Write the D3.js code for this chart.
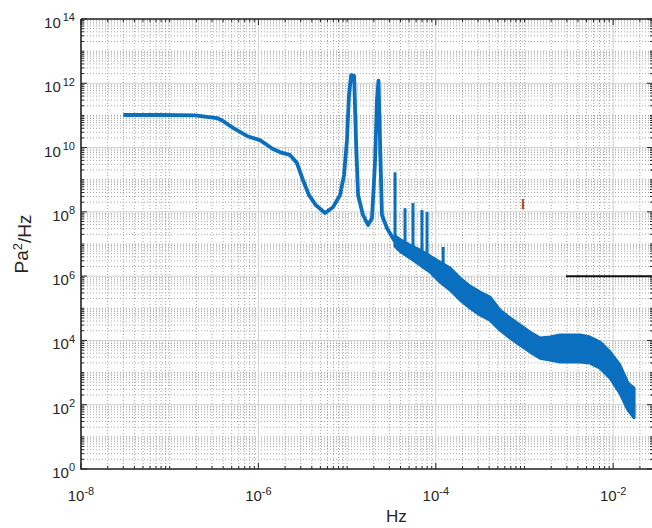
<!DOCTYPE html>
<html>
<head>
<meta charset="utf-8">
<script src="https://cdn.jsdelivr.net/npm/d3@7"></script>
<style>
  body { margin: 0; background: #fff; }
  svg { display: block; font-family: "Liberation Sans", Arial, sans-serif; }
</style>
</head>
<body>
<svg id="chart"></svg>
<script>
// spectrum below ~3e-5 Hz (Hz, Pa^2/Hz)
const lineFreq = [3.0e-8, 7.8e-8, 1.93e-7, 2.5e-7, 3.41e-7, 3.99e-7, 5.18e-7, 7.43e-7, 1.04e-6, 1.46e-6,
  1.85e-6, 2.27e-6, 2.72e-6, 3.18e-6, 3.72e-6, 4.46e-6, 5.64e-6, 6.93e-6, 8.32e-6, 9.23e-6,
  9.97e-6, 1.05e-5, 1.11e-5, 1.20e-5, 1.26e-5, 1.33e-5, 1.51e-5, 1.72e-5, 1.91e-5, 2.07e-5,
  2.17e-5, 2.26e-5, 2.35e-5, 2.47e-5, 2.82e-5, 3.29e-5, 3.47e-5];
const linePsd = [1.03e11, 1.03e11, 1.0e11, 9.2e10, 8.3e10, 6.7e10, 4.1e10, 2.3e10, 1.7e10, 9.0e9,
  6.8e9, 5.9e9, 3.3e9, 9.8e8, 3.3e8, 1.6e8, 9.2e7, 1.4e8, 3.3e8, 1.4e9,
  1.7e10, 4.3e11, 1.8e12, 1.7e12, 1.7e10, 3.3e8, 8.0e7, 3.9e7, 6.4e7, 4.1e9,
  3.0e11, 1.2e12, 1.7e10, 8.0e7, 3.1e7, 1.5e7, 1.2e7];

// noisy part: upper / lower envelope of the trace
const bandFreq = [3.47e-5, 4.05e-5, 5.12e-5, 6.64e-5, 8.61e-5, 1.11e-4, 1.45e-4, 1.88e-4, 2.43e-4, 3.15e-4,
  4.08e-4, 5.30e-4, 6.87e-4, 8.89e-4, 1.15e-3, 1.50e-3, 1.94e-3, 2.51e-3, 3.26e-3, 4.23e-3,
  5.47e-3, 7.10e-3, 9.20e-3, 1.19e-2, 1.47e-2, 1.72e-2];
const bandHigh = [1.77e7, 1.33e7, 9.3e6, 6.5e6, 4.2e6, 2.75e6, 1.79e6, 8.7e5, 4.9e5, 3.2e5,
  2.24e5, 8.8e4, 5.0e4, 3.0e4, 1.82e4, 1.19e4, 1.28e4, 1.47e4, 1.47e4, 1.47e4,
  1.28e4, 8.9e3, 4.4e3, 1.72e3, 4.7e2, 3.3e2];
const bandLow = [8.6e6, 5.6e6, 3.7e6, 2.2e6, 1.34e6, 6.6e5, 3.7e5, 1.81e5, 1.02e5, 6.2e4,
  4.3e4, 2.1e4, 1.19e4, 7.2e3, 4.4e3, 2.8e3, 2.45e3, 2.13e3, 2.13e3, 2.13e3,
  1.98e3, 1.38e3, 6.8e2, 2.3e2, 68, 39];

// narrow lines sticking out of the band
const spikeFreq = [3.47e-5, 4.50e-5, 5.53e-5, 6.98e-5, 7.96e-5, 1.21e-4];
const spikeTop = [1.7e9, 1.3e8, 1.9e8, 1.14e8, 9.9e7, 8.1e6];
const spikeBase = [1.5e7, 1.1e7, 8.0e6, 5.5e6, 4.5e6, 2.4e6];

// the two extra marks
const refFreq = [2.94e-3, 0.03];
const refPsd = [1e6, 1e6];
const markFreq = [9.6e-4, 9.6e-4];
const markPsd = [1.2e8, 2.5e8];

const xTickExp = [-8, -6, -4, -2];
const yTickExp = [0, 2, 4, 6, 8, 10, 12, 14];

class PsdChart {
  constructor(_config) {
    this.config = {
      parentElement: _config.parentElement,
      containerWidth: _config.containerWidth || 652,
      containerHeight: _config.containerHeight || 528,
      margin: _config.margin || {top: 19, right: -1, bottom: 59, left: 81}
    };
    this.initVis();
  }

  initVis() {
    let vis = this;
    const m = vis.config.margin;
    vis.width = vis.config.containerWidth - m.left - m.right;
    vis.height = vis.config.containerHeight - m.top - m.bottom;

    vis.svg = d3.select(vis.config.parentElement)
      .attr('width', vis.config.containerWidth)
      .attr('height', vis.config.containerHeight);

    vis.chart = vis.svg.append('g')
      .attr('transform', `translate(${m.left},${m.top})`);

    vis.xScale = d3.scaleLog().domain([1e-8, 0.0281]).range([0, vis.width]);
    vis.yScale = d3.scaleLog().domain([1, 1e14]).range([vis.height, 0]);

    vis.svg.append('defs').append('clipPath').attr('id', 'plot-clip')
      .append('rect').attr('width', vis.width).attr('height', vis.height);

    vis.renderVis();
  }

  renderVis() {
    let vis = this;
    const x = vis.xScale, y = vis.yScale;
    const W = vis.width, H = vis.height;

    // 1..9 x 10^n ticks from the log scales
    const xAll = x.ticks(50);
    const yAll = y.ticks(100);
    const xMajor = xTickExp.map(e => Math.pow(10, e));
    const yMajor = yTickExp.map(e => Math.pow(10, e));
    const isMajor = (list, v) => list.some(t => Math.abs(Math.log10(t) - Math.log10(v)) < 1e-6);
    const xMinor = xAll.filter(v => !isMajor(xMajor, v));
    const yMinor = yAll.filter(v => !isMajor(yMajor, v));

    // grid
    const grid = vis.chart.append('g');
    grid.selectAll('.vminor').data(xMinor).join('line')
      .attr('x1', d => x(d)).attr('x2', d => x(d)).attr('y1', 0).attr('y2', H)
      .attr('stroke', '#a8a8a8').attr('stroke-width', 1).attr('stroke-dasharray', '1,2');
    grid.selectAll('.hminor').data(yMinor).join('line')
      .attr('x1', 0).attr('x2', W).attr('y1', d => y(d)).attr('y2', d => y(d))
      .attr('stroke', '#a8a8a8').attr('stroke-width', 1).attr('stroke-dasharray', '1,2');
    grid.selectAll('.vmajor').data(xMajor).join('line')
      .attr('x1', d => x(d)).attr('x2', d => x(d)).attr('y1', 0).attr('y2', H)
      .attr('stroke', '#d0d0d0').attr('stroke-width', 1);
    grid.selectAll('.hmajor').data(yMajor).join('line')
      .attr('x1', 0).attr('x2', W).attr('y1', d => y(d)).attr('y2', d => y(d))
      .attr('stroke', '#d0d0d0').attr('stroke-width', 1);

    // data
    const plot = vis.chart.append('g').attr('clip-path', 'url(#plot-clip)');
    const blue = '#0b6fbf';

    const band = bandFreq.map((f, i) => ({f: f, hi: bandHigh[i], lo: bandLow[i]}));
    plot.append('path')
      .datum(band)
      .attr('d', d3.area().x(d => x(d.f)).y0(d => y(d.lo)).y1(d => y(d.hi)))
      .attr('fill', blue).attr('stroke', blue).attr('stroke-width', 3)
      .attr('stroke-linejoin', 'round');

    plot.selectAll('.spike').data(spikeFreq).join('line')
      .attr('x1', d => x(d)).attr('x2', d => x(d))
      .attr('y1', (d, i) => y(spikeBase[i])).attr('y2', (d, i) => y(spikeTop[i]))
      .attr('stroke', blue).attr('stroke-width', 3);

    const line = lineFreq.map((f, i) => ({f: f, p: linePsd[i]}));
    plot.append('path')
      .datum(line)
      .attr('d', d3.line().x(d => x(d.f)).y(d => y(d.p)))
      .attr('fill', 'none').attr('stroke', blue).attr('stroke-width', 3.8)
      .attr('stroke-linejoin', 'round');

    plot.append('path')
      .datum(refFreq.map((f, i) => [f, refPsd[i]]))
      .attr('d', d3.line().x(d => x(d[0])).y(d => y(d[1])))
      .attr('stroke', '#111').attr('stroke-width', 2).attr('fill', 'none');

    plot.append('path')
      .datum(markFreq.map((f, i) => [f, markPsd[i]]))
      .attr('d', d3.line().x(d => x(d[0])).y(d => y(d[1])))
      .attr('stroke', '#c8481c').attr('stroke-width', 2.2).attr('fill', 'none');

    // ticks (pointing inward, on all four sides)
    const axes = vis.chart.append('g');
    const tickStroke = '#262626';
    const drawTicks = (vals, len) => {
      axes.append('g').selectAll('line').data(vals).join('line')
        .attr('x1', d => x(d)).attr('x2', d => x(d)).attr('y1', H).attr('y2', H - len)
        .attr('stroke', tickStroke);
      axes.append('g').selectAll('line').data(vals).join('line')
        .attr('x1', d => x(d)).attr('x2', d => x(d)).attr('y1', 0).attr('y2', len)
        .attr('stroke', tickStroke);
    };
    const drawYTicks = (vals, len) => {
      axes.append('g').selectAll('line').data(vals).join('line')
        .attr('x1', 0).attr('x2', len).attr('y1', d => y(d)).attr('y2', d => y(d))
        .attr('stroke', tickStroke);
      axes.append('g').selectAll('line').data(vals).join('line')
        .attr('x1', W).attr('x2', W - len).attr('y1', d => y(d)).attr('y2', d => y(d))
        .attr('stroke', tickStroke);
    };
    drawTicks(xMinor, 3);
    drawTicks(xMajor, 6);
    drawYTicks(yMinor, 3);
    drawYTicks(yMajor, 6);

    // frame
    axes.append('path')
      .attr('d', `M0,0V${H}H${W}M0,0H${W}`)
      .attr('fill', 'none').attr('stroke', tickStroke).attr('stroke-width', 1.6);

    // tick labels with superscript exponents
    const xl = axes.selectAll('.xlab').data(xTickExp).join('text')
      .attr('x', d => x(Math.pow(10, d)))
      .attr('y', H + 32)
      .attr('text-anchor', 'middle')
      .attr('font-size', 15).attr('fill', '#262626');
    xl.append('tspan').text('10');
    xl.append('tspan').attr('dy', '-0.55em').attr('font-size', 11).text(d => d);

    const yl = axes.selectAll('.ylab').data(yTickExp).join('text')
      .attr('x', -6)
      .attr('y', d => y(Math.pow(10, d)) + 9)
      .attr('text-anchor', 'end')
      .attr('font-size', 15).attr('fill', '#262626');
    yl.append('tspan').text('10');
    yl.append('tspan').attr('dy', '-0.6em').attr('dx', d => d >= 10 ? 2 : 0)
      .attr('font-size', 11).text(d => d);

    // axis titles
    vis.svg.append('text')
      .attr('x', vis.config.margin.left + x(3e-5) + 7)
      .attr('y', 522)
      .attr('text-anchor', 'middle')
      .attr('font-size', 17).attr('fill', '#262626')
      .text('Hz');

    const yt = vis.svg.append('text')
      .attr('transform', 'translate(28,244) rotate(-90)')
      .attr('text-anchor', 'middle')
      .attr('font-size', 19).attr('fill', '#262626');
    yt.append('tspan').text('Pa');
    yt.append('tspan').attr('dy', '-0.5em').attr('font-size', 13).text('2');
    yt.append('tspan').attr('dy', '0.5em').text('/Hz');
  }
}

new PsdChart({parentElement: '#chart'});
</script>
</body>
</html>
